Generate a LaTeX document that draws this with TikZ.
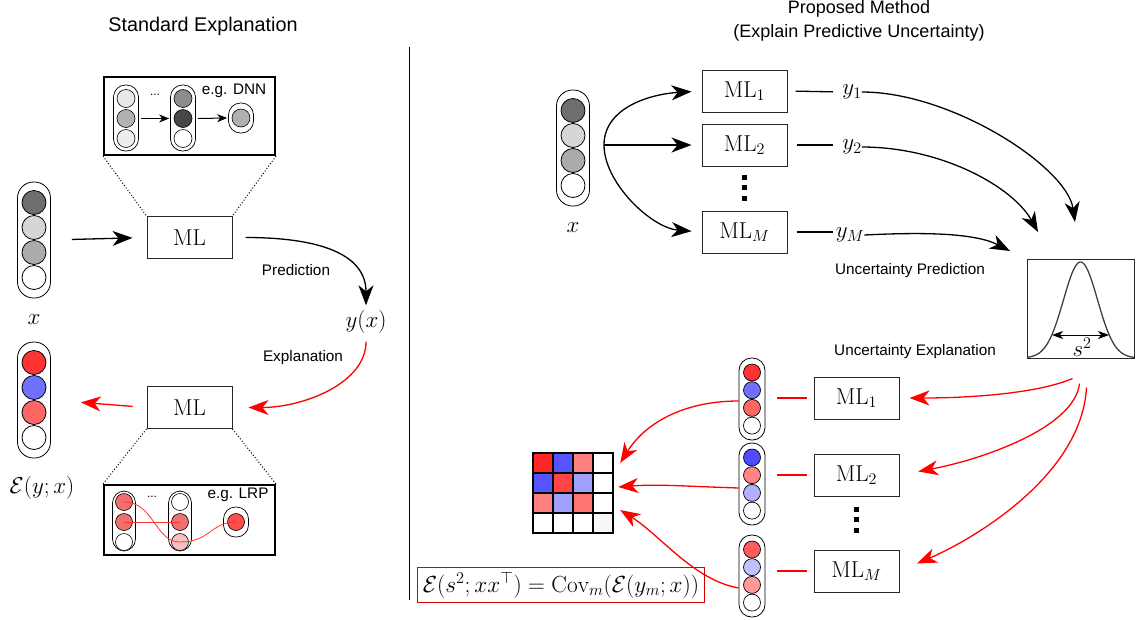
\RequirePackage{fix-cm}
\documentclass[tikz,border=0pt]{standalone}
\usepackage{amsmath}
\usepackage{fontspec}
\newfontfamily\labelfont{Liberation Sans}
\usepackage{tikz}
\usetikzlibrary{shapes.geometric, arrows.meta, positioning}

\definecolor{gDark}{HTML}{6E6E6E}
\definecolor{gLight}{HTML}{D6D6D6}
\definecolor{gMid}{HTML}{ABABAB}
\definecolor{rStrong}{HTML}{FF3333}
\definecolor{rMid}{HTML}{FF6666}
\definecolor{rSoft}{HTML}{FF9A9A}
\definecolor{bStrong}{HTML}{4D4DFF}
\definecolor{bMid}{HTML}{7070FF}
\definecolor{bSoft}{HTML}{B0B0FF}
\definecolor{lrpRed}{HTML}{F07070}
\definecolor{lrpPale}{HTML}{F8C0C0}

\begin{document}
\begin{tikzpicture}[x=1pt, y=-1pt, node distance=25pt, >={Stealth[length=20pt, width=15pt, inset=6pt]}]
    \tikzstyle{title} = [font=\labelfont\fontsize{18}{24}\selectfont, align=center]
    \tikzstyle{tag} = [font=\labelfont\fontsize{15.3}{18}\selectfont]
    \tikzstyle{mathlbl} = [font=\fontsize{23}{27}\selectfont, inner sep=0pt]
    \tikzstyle{mlbox} = [rectangle, draw=black!85, line width=1pt, minimum width=85pt, minimum height=42pt, inner sep=0pt, font=\fontsize{23}{27}\selectfont]
    \tikzstyle{bigcap} = [rectangle, rounded corners=16pt, draw=black, line width=0.8pt, minimum width=33pt, minimum height=116pt]
    \tikzstyle{bigdot} = [circle, draw=black, line width=0.8pt, minimum size=24pt, inner sep=0pt]
    \tikzstyle{smallcap} = [rectangle, rounded corners=12.5pt, draw=black, line width=0.8pt, minimum width=26pt, minimum height=82pt]
    \tikzstyle{smalldot} = [circle, draw=black, line width=0.7pt, minimum size=17pt, inner sep=0pt]
    \tikzstyle{tinycap} = [rectangle, rounded corners=12pt, draw=black, line width=0.7pt, minimum width=25pt, minimum height=66pt]
    \tikzstyle{tinydot} = [circle, draw=black, line width=0.6pt, minimum size=18pt, inner sep=0pt]
    \tikzstyle{inset} = [rectangle, draw=black, line width=2pt, minimum width=171pt, inner sep=0pt]
    \tikzstyle{arrow} = [line width=1.3pt, ->]
    \tikzstyle{redarrow} = [line width=1.3pt, ->, draw=red]
    \tikzstyle{redlink} = [draw=red, line width=1.4pt, shorten <=12pt, shorten >=7pt]
    \tikzstyle{zoomline} = [dotted, line width=1pt]
    \tikzstyle{vdot} = [rectangle, fill=black, minimum width=4.5pt, minimum height=5pt, inner sep=0pt]

    \useasboundingbox (0,0) rectangle (1139,619);

    % titles and divider
    \node (ttlStd) [title, font=\labelfont\fontsize{19.8}{24}\selectfont] at (203,26) {Standard Explanation};
    \node (ttlProp) [title] at (859,21) {Proposed Method\\(Explain Predictive Uncertainty)};
    \draw [line width=1pt] (409,47) -- (409,600);

    % ---- standard explanation ----
    \node (xL) [bigcap] at (34,240) {};
    \node (xL1) [bigdot, fill=gDark] at (34,202.5) {};
    \node (xL2) [bigdot, fill=gLight, below of=xL1] {};
    \node (xL3) [bigdot, fill=gMid, below of=xL2] {};
    \node (xL4) [bigdot, fill=white, below of=xL3] {};
    \node (xLlbl) [mathlbl] at (34,320) {$x$};

    \node (mlL) [mlbox] at (189.5,237.5) {$\mathrm{ML}$};
    \node (mlL2) [mlbox] at (189.5,407.5) {$\mathrm{ML}$};
    \node (yx) [mathlbl] at (366,322) {$y(x)$};
    \node (predTag) [tag] at (296,270) {Prediction};
    \node (explTag) [tag] at (303,358) {Explanation};

    \node (outL) [bigcap] at (34,400) {};
    \node (outL1) [bigdot, fill=rStrong] at (34,362.5) {};
    \node (outL2) [bigdot, fill=bMid, below of=outL1] {};
    \node (outL3) [bigdot, fill=rMid, below of=outL2] {};
    \node (outL4) [bigdot, fill=white, below of=outL3] {};
    \node (outLlbl) [mathlbl] at (42,488) {$\mathcal{E}(y;x)$};

    % DNN inset
    \node (dnn) [inset, minimum height=78pt] at (189.5,116) {};
    \node (dnnA) [tinycap] at (126,118) {};
    \node (dnnA1) [tinydot, fill=black!9] at (126,98.5) {};
    \node (dnnA2) [tinydot, fill=black!30, below of=dnnA1, node distance=20pt] {};
    \node (dnnA3) [tinydot, fill=black!7, below of=dnnA2, node distance=20pt] {};
    \node (dnnB) [tinycap] at (183,118) {};
    \node (dnnB1) [tinydot, fill=black!45] at (183,98.5) {};
    \node (dnnB2) [tinydot, fill=black!72, below of=dnnB1, node distance=20pt] {};
    \node (dnnB3) [tinydot, fill=white, below of=dnnB2, node distance=20pt] {};
    \node (dnnC) [tinycap, minimum height=30pt] at (241,118) {};
    \node (dnnC1) [tinydot, fill=black!31] at (241,118) {};
    \node (dnnDots) [font=\labelfont\fontsize{12}{12}\selectfont] at (155,95) {...};
    \node (dnnTag) [tag] at (234,91) {e.g. DNN};
    \draw [line width=1pt, -{Stealth[length=10pt, width=8pt, inset=3pt]}] (dnnA2) ++(15,0) -- ([xshift=-1pt]dnnB.west |- dnnB2);
    \draw [line width=1pt, -{Stealth[length=10pt, width=8pt, inset=3pt]}] (dnnB2) ++(15,0) -- ([xshift=-1pt]dnnC.west);

    % LRP inset
    \node (lrp) [inset, minimum height=70pt] at (189.5,520) {};
    \node (lrpA) [tinycap, minimum width=23pt, minimum height=60pt] at (124,521) {};
    \node (lrpA1) [tinydot, minimum size=17pt, fill=lrpRed] at (124,502) {};
    \node (lrpA2) [tinydot, minimum size=17pt, fill=lrpRed, below of=lrpA1, node distance=20pt] {};
    \node (lrpA3) [tinydot, minimum size=17pt, fill=white, below of=lrpA2, node distance=20pt] {};
    \node (lrpB) [tinycap, minimum width=23pt, minimum height=60pt] at (180,521) {};
    \node (lrpB1) [tinydot, minimum size=17pt, fill=white] at (180,502) {};
    \node (lrpB2) [tinydot, minimum size=17pt, fill=lrpRed, below of=lrpB1, node distance=20pt] {};
    \node (lrpB3) [tinydot, minimum size=17pt, fill=lrpPale, below of=lrpB2, node distance=20pt] {};
    \node (lrpC) [tinycap, minimum width=25pt, minimum height=30pt] at (236,522) {};
    \node (lrpC1) [tinydot, minimum size=17pt, fill=red!70] at (236,522) {};
    \node (lrpDots) [font=\labelfont\fontsize{12}{12}\selectfont] at (152,497) {...};
    \node (lrpTag) [tag] at (238,495) {e.g. LRP};
    \draw [red!80, line width=0.8pt] (lrpA1.center) .. controls +(30,0) and +(-25,0) .. (lrpB3.center);
    \draw [red!80, line width=0.8pt] (lrpA2.center) -- (lrpB2.center);
    \draw [red!80, line width=0.8pt] (lrpB3.center) .. controls +(30,0) and +(-25,0) .. (lrpC1.center);

    % zoom lines
    \draw [zoomline] (dnn.south west) -- (mlL.north west);
    \draw [zoomline] (dnn.south east) -- (mlL.north east);
    \draw [zoomline] (mlL2.south west) -- (lrp.north west);
    \draw [zoomline] (mlL2.south east) -- (lrp.north east);

    % connectors, left
    \draw [arrow, shorten <=21pt, shorten >=14pt] (xL.east) -- (mlL.west);
    \draw [arrow, shorten <=13pt, shorten >=5pt] (mlL.east) .. controls +(90,0) and +(0,-55) .. (yx.north);
    \draw [redarrow, shorten <=8pt, shorten >=16pt] (yx.south) .. controls +(0,50) and +(70,0) .. (mlL2.east);
    \draw [redarrow, shorten <=14pt, shorten >=30pt] (mlL2.west) -- (outL.east);

    % ---- proposed method ----
    \node (xR) [bigcap] at (573,148) {};
    \node (xR1) [bigdot, fill=gDark] at (573,110.5) {};
    \node (xR2) [bigdot, fill=gLight, below of=xR1] {};
    \node (xR3) [bigdot, fill=gMid, below of=xR2] {};
    \node (xR4) [bigdot, fill=white, below of=xR3] {};
    \node (xRlbl) [mathlbl] at (573,228) {$x$};
    \coordinate (fork) at (604,145);

    \node (mlA) [mlbox] at (744.5,91) {$\mathrm{ML}_1$};
    \node (mlB) [mlbox] at (744.5,145) {$\mathrm{ML}_2$};
    \node (mlC) [mlbox] at (744.5,232) {$\mathrm{ML}_M$};
    \node (vdA1) [vdot] at (744.5,177) {};
    \node (vdA2) [vdot] at (744.5,187.5) {};
    \node (vdA3) [vdot] at (744.5,198) {};

    \node (yA) [mathlbl] at (852,92) {$y_1$};
    \node (yB) [mathlbl] at (852,147) {$y_2$};
    \node (yC) [mathlbl] at (850,235) {$y_M$};

    \draw [arrow, shorten >=10pt] (fork) .. controls +(0,-38) and +(-50,3) .. (mlA.west);
    \draw [arrow, shorten >=10pt] (fork) -- (mlB.west);
    \draw [arrow, shorten >=10pt] (fork) .. controls +(0,38) and +(-50,-4) .. (mlC.west);

    \draw [line width=1.3pt, shorten <=8pt, shorten >=9pt] (mlA.east) -- (yA.west);
    \draw [line width=1.3pt, shorten <=9pt, shorten >=9pt] (mlB.east) -- (yB.west |- mlB);
    \draw [line width=1.3pt, shorten <=9pt, shorten >=3pt] (mlC.east) -- (yC.west |- mlC);

    % uncertainty box
    \node (gauss) [rectangle, draw=black!85, line width=1pt, minimum width=107pt, minimum height=99pt, inner sep=0pt] at (1080.5,308.5) {};
    \draw [black!75, line width=1.3pt] plot[domain=1027:1134, samples=90, smooth] (\x, {358-96*exp(-((\x-1080.5)^2)/578)});
    \coordinate (sL) at (1052,335);
    \coordinate (sR) at (1109,335);
    \draw [line width=1pt, {Stealth[length=11pt, width=8pt, inset=3pt]}-{Stealth[length=11pt, width=8pt, inset=3pt]}] (sL) -- (sR);
    \node (sLbl) [mathlbl] at (1082,347) {$s^2$};

    \coordinate (inA) at (1075,222);
    \coordinate (inB) at (1038,232);
    \coordinate (inC) at (1010,251);
    \draw [arrow] (yA.east) .. controls +(90,0) and +(-8,-55) .. (inA);
    \draw [arrow] (yB.east) .. controls +(80,0) and +(-25,-45) .. (inB);
    \draw [arrow] (yC.east) .. controls +(60,-3) and +(-35,-18) .. (inC);

    \node (uPredTag) [tag] at (910,271) {Uncertainty Prediction};
    \node (uExplTag) [tag] at (915,352) {Uncertainty Explanation};

    % explanation branch
    \node (mlD) [mlbox] at (856.5,398) {$\mathrm{ML}_1$};
    \node (mlE) [mlbox] at (856.5,475) {$\mathrm{ML}_2$};
    \node (mlF) [mlbox] at (856.5,571) {$\mathrm{ML}_M$};
    \node (vdB1) [vdot] at (856.5,509) {};
    \node (vdB2) [vdot] at (856.5,519.5) {};
    \node (vdB3) [vdot] at (856.5,530) {};

    \draw [redarrow, shorten >=10pt] ([xshift=-8pt,yshift=-20pt]gauss.south) .. controls +(-35,15) and +(70,0) .. (mlD.east);
    \draw [redarrow, shorten >=19pt] ([xshift=-1pt,yshift=-25pt]gauss.south) .. controls +(-5,45) and +(80,-15) .. (mlE.east);
    \draw [redarrow, shorten >=19pt] ([xshift=6pt,yshift=-29pt]gauss.south) .. controls +(-5,90) and +(70,-30) .. (mlF.east);

    \node (colA) [smallcap] at (752,399) {};
    \node (colA1) [smalldot, fill=rStrong] at (752,372.5) {};
    \node (colA2) [smalldot, fill=bMid, below of=colA1, node distance=17.7pt] {};
    \node (colA3) [smalldot, fill=rMid, below of=colA2, node distance=17.7pt] {};
    \node (colA4) [smalldot, fill=white, below of=colA3, node distance=17.7pt] {};

    \node (colB) [smallcap] at (752,484) {};
    \node (colB1) [smalldot, fill=bStrong] at (752,457.5) {};
    \node (colB2) [smalldot, fill=rMid!80!white, below of=colB1, node distance=17.7pt] {};
    \node (colB3) [smalldot, fill=bSoft, below of=colB2, node distance=17.7pt] {};
    \node (colB4) [smalldot, fill=white, below of=colB3, node distance=17.7pt] {};

    \node (colC) [smallcap] at (752,576) {};
    \node (colC1) [smalldot, fill=rMid!90!red] at (752,549.5) {};
    \node (colC2) [smalldot, fill=bSoft!80!white, below of=colC1, node distance=17.7pt] {};
    \node (colC3) [smalldot, fill=rSoft, below of=colC2, node distance=17.7pt] {};
    \node (colC4) [smalldot, fill=white, below of=colC3, node distance=17.7pt] {};

    \draw [redlink] (colA.east |- mlD.west) -- (mlD.west);
    \draw [redlink] (colB.east |- mlE.west) -- (mlE.west);
    \draw [redlink] (colC.east |- mlF.west) -- (mlF.west);

    % heat map
    \node (heat) [rectangle, minimum size=80pt, inner sep=0pt] at (573,493) {};
    \foreach \c [count=\i from 0] in {FF2626,5555FF,FF8080,FFFFFF,5555FF,FF4545,A0A0FF,FFFFFF,FF8080,A0A0FF,FF7373,FFFFFF,FFFFFF,FFFFFF,FFFFFF,F7F7F7} {
        \pgfmathtruncatemacro\hcol{mod(\i,4)}
        \pgfmathtruncatemacro\hrow{floor(\i/4)}
        \definecolor{cellc}{HTML}{\c}
        \draw [line width=2pt, fill=cellc] (533+20*\hcol,453+20*\hrow) rectangle +(20,20);
    }

    \draw [redarrow] ([yshift=-2pt]colA.west) .. controls +(-55,0) and +(25,-40) .. ([xshift=7pt,yshift=30pt]heat.east);
    \draw [redarrow] ([yshift=-4pt]colB.west) .. controls +(-60,-2) and +(40,-3) .. ([xshift=5pt,yshift=6pt]heat.east);
    \draw [redarrow] ([yshift=-12pt]colC.west) .. controls +(-45,-8) and +(40,25) .. ([xshift=7pt,yshift=-17pt]heat.east);

    % covariance formula
    \node (covEq) [rectangle, draw=red!85!black, line width=0.8pt, minimum height=35pt, inner xsep=5pt, inner ysep=0pt, font=\fontsize{23.3}{27}\selectfont] at (561,585) {$\mathcal{E}(s^2;xx^\top)=\mathrm{Cov}_m(\mathcal{E}(y_m;x))$};
\end{tikzpicture}
\end{document}
